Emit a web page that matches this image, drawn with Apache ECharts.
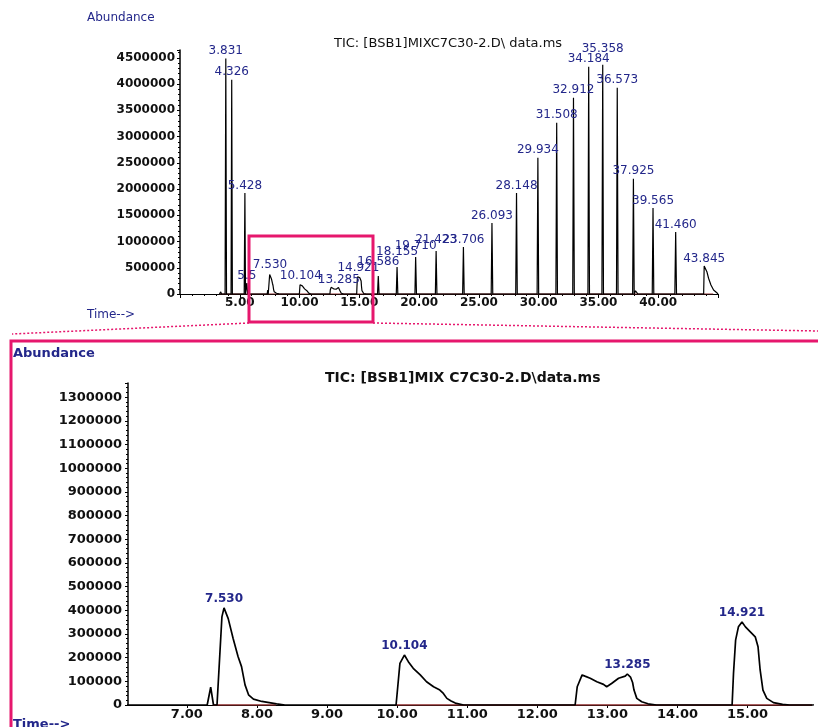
<!DOCTYPE html>
<html>
<head>
<meta charset="utf-8">
<title>TIC MIXC7C30-2</title>
<script src="https://cdn.jsdelivr.net/npm/echarts@6/dist/echarts.min.js"></script>
<style>
  html, body { margin: 0; padding: 0; background: #fff; }
  #chart { width: 818px; height: 727px; }
</style>
</head>
<body>
<div id="chart"></div>
<script>
// TIC trace, [time (min), abundance]
// before the zoomed window
var ticEarly = [
  [3.3, 0], [3.35, 0], [3.41, 40000], [3.47, 0],
  [3.77, 0], [3.831, 4490000], [3.89, 0],
  [4.27, 0], [4.326, 4084000], [4.38, 0],
  [4.82, 0], [4.88, 30000], [4.94, 0],
  [5.37, 0], [5.428, 1927000], [5.48, 0],
  [5.53, 0], [5.59, 210000], [5.66, 0]
];
// zoomed window 6.16 - 15.92 min
var ticZoom = [
  [6.16, 0], [7.29, 0], [7.34, 75000], [7.38, 0], [7.43, 0],
  [7.5, 372000], [7.53, 410000], [7.59, 365000], [7.66, 281000], [7.73, 205000],
  [7.78, 162000], [7.83, 85000], [7.88, 43000], [7.95, 25000], [8.07, 15000],
  [8.28, 5000], [8.4, 0],
  [9.985, 0], [10.04, 176000], [10.104, 211000], [10.16, 183000], [10.23, 155000],
  [10.33, 127000], [10.42, 98000], [10.52, 77000], [10.61, 63000], [10.66, 49000],
  [10.71, 28000], [10.77, 17000], [10.83, 8000], [10.95, 0],
  [12.54, 0], [12.57, 77000], [12.64, 127000], [12.68, 122000], [12.755, 113000],
  [12.85, 98000], [12.945, 87000], [12.99, 77000], [13.06, 91000], [13.16, 113000],
  [13.255, 122000], [13.285, 131000], [13.33, 118000], [13.36, 95000], [13.38, 63000],
  [13.42, 28000], [13.49, 14000], [13.58, 5000], [13.7, 0],
  [14.78, 0], [14.8, 134000], [14.83, 274000], [14.87, 330000], [14.921, 351000],
  [14.97, 330000], [15.04, 309000], [15.11, 288000], [15.15, 246000], [15.18, 148000],
  [15.22, 63000], [15.275, 28000], [15.37, 10000], [15.5, 3000], [15.6, 0]
];
// after the zoomed window
var ticLate = [
  [15.92, 0], [16.52, 0], [16.586, 343000], [16.65, 0],
  [18.09, 0], [18.155, 515000], [18.22, 0],
  [19.65, 0], [19.71, 706000], [19.78, 0],
  [21.36, 0], [21.423, 820000], [21.49, 0],
  [23.64, 0], [23.706, 897000], [23.77, 0],
  [26.03, 0], [26.093, 1355000], [26.16, 0],
  [28.08, 0], [28.148, 1927000], [28.21, 0],
  [29.87, 0], [29.934, 2595000], [30.0, 0],
  [31.44, 0], [31.508, 3263000], [31.57, 0],
  [32.85, 0], [32.912, 3740000], [32.98, 0],
  [34.12, 0], [34.184, 4332000], [34.25, 0],
  [35.29, 0], [35.358, 4370000], [35.42, 0],
  [36.51, 0], [36.573, 3931000], [36.64, 0],
  [37.86, 0], [37.925, 2195000], [37.99, 0], [38.1, 60000], [38.3, 0],
  [39.5, 0], [39.565, 1641000], [39.63, 0],
  [41.39, 0], [41.46, 1183000], [41.53, 0],
  [43.8, 0], [43.845, 534000], [44.07, 426000], [44.21, 300000], [44.41, 172000],
  [44.63, 76000], [44.9, 25000], [45, 0]
];

// integrated peaks
var peakTimes = [3.831, 4.326, 5.428, 5.59, 7.53, 10.104, 13.285, 14.921, 16.586, 18.155,
  19.71, 21.423, 23.706, 26.093, 28.148, 29.934, 31.508, 32.912, 34.184, 35.358,
  36.573, 37.925, 39.565, 41.46, 43.845];
var peakHeights = [4490000, 4084000, 1927000, 210000, 410000, 211000, 131000, 351000, 343000, 515000,
  706000, 820000, 897000, 1355000, 1927000, 2595000, 3263000, 3740000, 4332000, 4370000,
  3931000, 2195000, 1641000, 1183000, 534000];
var peakLabels = ["3.831", "4.326", "5.428", "5.5", "7.530", "10.104", "13.285", "14.921", "16.586", "18.155",
  "19.710", "21.423", "23.706", "26.093", "28.148", "29.934", "31.508", "32.912", "34.184", "35.358",
  "36.573", "37.925", "39.565", "41.460", "43.845"];

// red integration baselines
var baseTop = [[3.3, 0], [44.6, 0]];
var baseZoom = [[7.37, 0], [8.27, 0], [9, "-"], [9.98, 0], [15.92, 0]];

var xTicksZoom = [7, 8, 9, 10, 11, 12, 13, 14, 15];
var zoomMin = 6.16;
var zoomMax = 15.92;

var tic = ticEarly.concat(ticZoom, ticLate);

var FONT = "DejaVu Sans";
var BLUE = "#23278a";
var PINK = "#e6176d";
var BASE_RED = "#8b2a2a";

// some labels sit higher to clear their neighbours
var raisedLabels = { "35.358": 9, "16.586": 8, "18.155": 9, "19.710": 5, "21.423": 5 };

function labelData(inZoom) {
  var out = [];
  for (var i = 0; i < peakTimes.length; i++) {
    if (inZoom && (peakTimes[i] < zoomMin || peakTimes[i] > zoomMax)) continue;
    var item = { value: [peakTimes[i], peakHeights[i]], name: peakLabels[i] };
    if (!inZoom && raisedLabels[peakLabels[i]]) {
      item.label = { distance: raisedLabels[peakLabels[i]] };
    }
    out.push(item);
  }
  return out;
}

var chart = echarts.init(document.getElementById("chart"));

chart.setOption({
  animation: false,
  backgroundColor: "#fff",
  textStyle: { fontFamily: FONT },
  title: [
    {
      text: "TIC: [BSB1]MIXC7C30-2.D\\ data.ms",
      left: 334, top: 37, padding: 0,
      textStyle: { fontFamily: FONT, fontSize: 13, fontWeight: "normal", color: "#111" }
    },
    {
      text: "TIC: [BSB1]MIX C7C30-2.D\\data.ms",
      left: 325, top: 371, padding: 0,
      textStyle: { fontFamily: FONT, fontSize: 14, fontWeight: "bold", color: "#111" }
    }
  ],
  grid: [
    { left: 180, top: 50, width: 538, height: 244, outerBoundsMode: "none" },
    { left: 128, top: 383, width: 684, height: 322, outerBoundsMode: "none" }
  ],
  xAxis: [
    {
      gridIndex: 0, type: "value", min: 0, max: 45, interval: 5,
      splitLine: { show: false },
      axisLine: { lineStyle: { color: "#000", width: 1 } },
      axisTick: { length: 4, lineStyle: { color: "#000" } },
      minorTick: { show: true, splitNumber: 5, length: 2, lineStyle: { color: "#000" } },
      axisLabel: {
        margin: 3, color: "#111", fontFamily: FONT, fontSize: 12, fontWeight: "bold",
        formatter: function (v) { return (v === 0 || v === 45) ? "" : v.toFixed(2); }
      }
    },
    {
      gridIndex: 1, type: "value", min: zoomMin, max: zoomMax,
      splitLine: { show: false },
      axisLine: { lineStyle: { color: "#000", width: 1 } },
      axisTick: { customValues: xTicksZoom, length: 3, lineStyle: { color: "#000" } },
      axisLabel: {
        customValues: xTicksZoom, margin: 3, color: "#111",
        fontFamily: FONT, fontSize: 13, fontWeight: "bold",
        formatter: function (v) { return v.toFixed(2); }
      }
    }
  ],
  yAxis: [
    {
      gridIndex: 0, type: "value", min: 0, max: 4650000, interval: 500000,
      splitLine: { show: false },
      axisLine: { show: true, lineStyle: { color: "#000", width: 1.5 } },
      axisTick: { show: true, length: 3, lineStyle: { color: "#000" } },
      minorTick: { show: true, splitNumber: 5, length: 2, lineStyle: { color: "#000" } },
      axisLabel: {
        margin: 5, color: "#111", fontFamily: FONT, fontSize: 12, fontWeight: "bold",
        formatter: function (v) { return v % 500000 === 0 ? String(v) : ""; }
      }
    },
    {
      gridIndex: 1, type: "value", min: 0, max: 1360000, interval: 100000,
      splitLine: { show: false },
      axisLine: { show: true, lineStyle: { color: "#000", width: 1.5 } },
      axisTick: { show: true, length: 3, lineStyle: { color: "#000" } },
      minorTick: { show: true, splitNumber: 5, length: 2, lineStyle: { color: "#000" } },
      axisLabel: {
        margin: 6, color: "#111", fontFamily: FONT, fontSize: 13, fontWeight: "bold",
        formatter: function (v) { return v % 100000 === 0 ? String(v) : ""; }
      }
    }
  ],
  series: [
    // overview
    {
      type: "line", xAxisIndex: 0, yAxisIndex: 0, data: baseTop, symbol: "none",
      lineStyle: { color: BASE_RED, width: 1 }, z: 1, silent: true
    },
    {
      type: "line", xAxisIndex: 0, yAxisIndex: 0, data: tic, symbol: "none",
      lineStyle: { color: "#000", width: 1.2 }, z: 2
    },
    {
      type: "scatter", xAxisIndex: 0, yAxisIndex: 0, data: labelData(false),
      symbolSize: 1, itemStyle: { color: "rgba(0,0,0,0)", opacity: 1 }, z: 3,
      label: {
        show: true, position: "top", distance: 1,
        formatter: "{b}", color: BLUE, fontFamily: FONT, fontSize: 12
      }
    },
    // zoomed window
    {
      type: "line", xAxisIndex: 1, yAxisIndex: 1, data: baseZoom, symbol: "none",
      lineStyle: { color: BASE_RED, width: 1.5 }, z: 1, silent: true
    },
    {
      type: "line", xAxisIndex: 1, yAxisIndex: 1, data: tic, symbol: "none",
      lineStyle: { color: "#000", width: 1.7 }, z: 2
    },
    {
      type: "scatter", xAxisIndex: 1, yAxisIndex: 1, data: labelData(true),
      symbolSize: 1, itemStyle: { color: "rgba(0,0,0,0)", opacity: 1 }, z: 3,
      label: {
        show: true, position: "top", distance: 3,
        formatter: "{b}", color: BLUE, fontFamily: FONT, fontSize: 12, fontWeight: "bold"
      }
    }
  ],
  graphic: [
    {
      type: "text", left: 87, top: 12, z: 100,
      style: { text: "Abundance", fill: BLUE, font: "12px " + FONT }
    },
    {
      type: "text", left: 87, top: 309, z: 100,
      style: { text: "Time-->", fill: BLUE, font: "12px " + FONT }
    },
    // zoom box on the overview
    {
      type: "rect", z: 100, silent: true,
      shape: { x: 249, y: 236, width: 124, height: 86 },
      style: { fill: null, stroke: PINK, lineWidth: 3 }
    },
    {
      type: "polyline", z: 100, silent: true,
      shape: { points: [[249, 323], [12, 334]] },
      style: { stroke: PINK, lineWidth: 1.5, lineDash: [2, 2] }
    },
    {
      type: "polyline", z: 100, silent: true,
      shape: { points: [[373, 323], [818, 331]] },
      style: { stroke: PINK, lineWidth: 1.5, lineDash: [2, 2] }
    },
    // frame of the zoomed panel
    {
      type: "rect", z: 100, silent: true,
      shape: { x: 11, y: 341, width: 900, height: 500 },
      style: { fill: null, stroke: PINK, lineWidth: 3 }
    },
    {
      type: "text", left: 13, top: 347, z: 100,
      style: { text: "Abundance", fill: BLUE, font: "bold 13px " + FONT }
    },
    {
      type: "text", left: 13, top: 718, z: 100,
      style: { text: "Time-->", fill: BLUE, font: "bold 13px " + FONT }
    }
  ]
});
</script>
</body>
</html>
